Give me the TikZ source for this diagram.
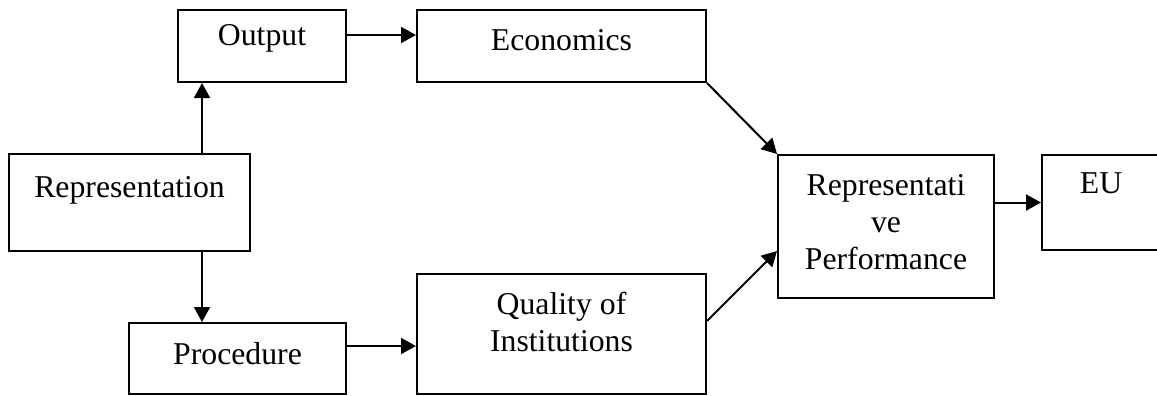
\documentclass[tikz,border=0pt]{standalone}
\usepackage{fontspec}
\setmainfont{Liberation Serif}
\usetikzlibrary{arrows.meta,positioning}

\tikzset{
  box/.style={draw, line width=0.8pt, inner sep=0pt},
  txt/.style={inner sep=0pt, align=center, font=\fontsize{12.7}{14.8}\selectfont},
  arr/.style={line width=0.8pt, -{Triangle[length=6pt,width=6.4pt]}},
}

\begin{document}
\begin{tikzpicture}[x=0.4pt,y=-0.4pt]
\useasboundingbox (0,0) rectangle (1157,395);
\clip (0,0) rectangle (1157,395);
% boxes
\node[box, minimum width=67.2pt, minimum height=28.8pt] (out) at (262,46) {};
\node[box, minimum width=115.6pt, minimum height=28.8pt] (eco) at (561.5,46) {};
\node[box, minimum width=96.4pt, minimum height=38.8pt] (rep) at (129.5,202.5) {};
\node[box, minimum width=86.8pt, minimum height=28.4pt] (proc) at (237.5,358.5) {};
\node[box, minimum width=115.6pt, minimum height=48pt] (qual) at (561.5,334) {};
\node[box, minimum width=86.4pt, minimum height=57.2pt] (perf) at (886,226.5) {};
\node[box, minimum width=47.2pt, minimum height=38pt] (eu) at (1101,202.5) {};
% labels, set near the top of each box
\node[txt, below=6pt of out.north] (out-t) {Output};
\node[txt, below=7.8pt of eco.north] (eco-t) {Economics};
\node[txt, below=9.2pt of rep.north] (rep-t) {Representation};
\node[txt, below=8pt of proc.north] (proc-t) {Procedure};
\node[txt, below=7.6pt of qual.north] (qual-t) {Quality of\\Institutions};
\node[txt, below=8pt of perf.north] (perf-t) {Representati\\ve\\Performance};
\node[txt, below=7.2pt of eu.north] (eu-t) {EU};
% arrows
\draw[arr] ([xshift=29pt]rep.north) coordinate (up) -- (up |- out.south);
\draw[arr] ([xshift=29pt]rep.south) coordinate (dn) -- (dn |- proc.north);
\draw[arr] ([yshift=4.4pt]out.east) coordinate (r1) -- (r1 -| eco.west);
\draw[arr] ([yshift=5pt]proc.east) coordinate (r2) -- (r2 -| qual.west);
\draw[arr] (eco.south east) -- (perf.north west);
\draw[arr] ([yshift=5.2pt]qual.east) -- ([yshift=-9.8pt]perf.west);
\draw[arr] (perf.east |- eu.west) -- (eu.west);
\end{tikzpicture}
\end{document}
